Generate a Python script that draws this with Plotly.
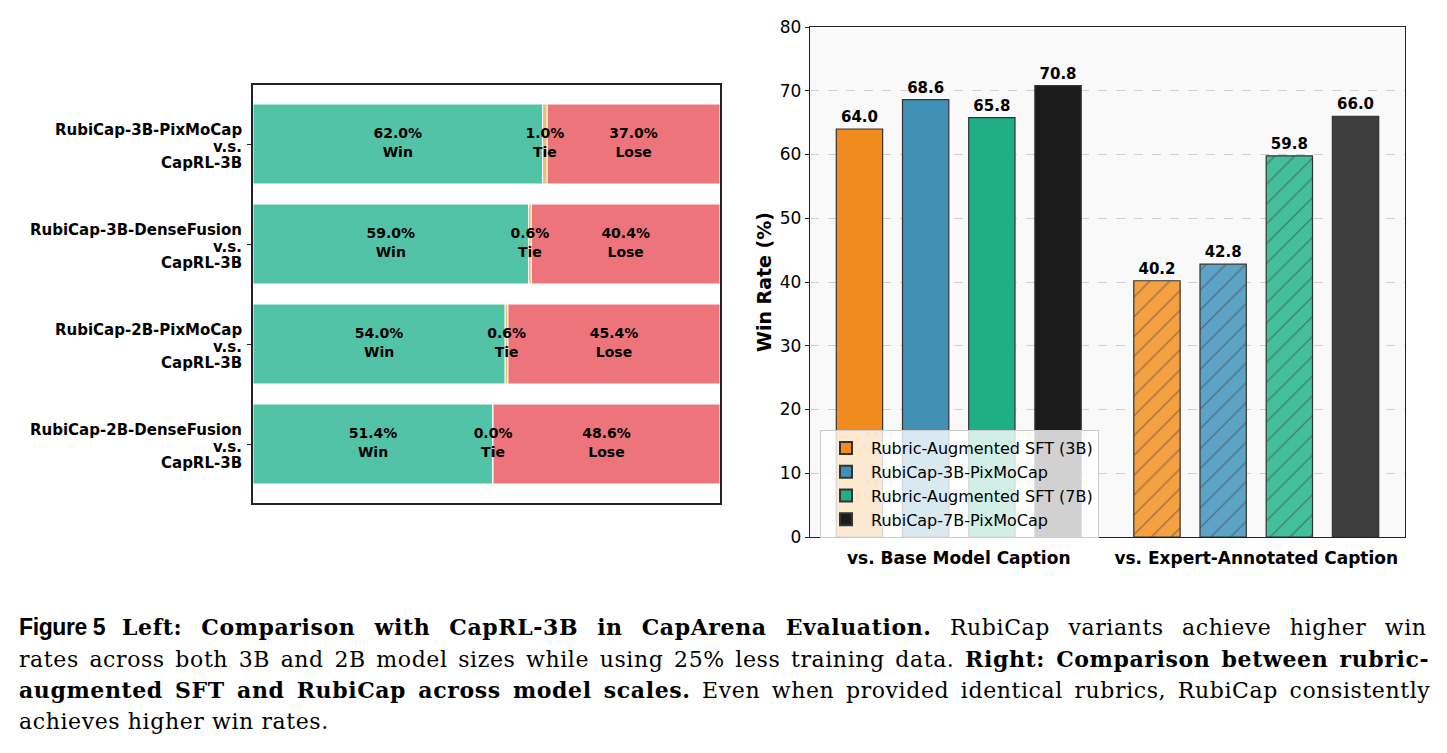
import plotly.graph_objects as go

W, H = 1447, 753

# ---------------- data ----------------
pair_lines = [
    ["RubiCap-3B-PixMoCap", "v.s.", "CapRL-3B"],
    ["RubiCap-3B-DenseFusion", "v.s.", "CapRL-3B"],
    ["RubiCap-2B-PixMoCap", "v.s.", "CapRL-3B"],
    ["RubiCap-2B-DenseFusion", "v.s.", "CapRL-3B"],
]
pairs = ["<br>".join(p) for p in pair_lines]
win = [62.0, 59.0, 54.0, 51.4]
tie = [1.0, 0.6, 0.6, 0.0]
lose = [37.0, 40.4, 45.4, 48.6]

groups = ["vs. Base Model Caption", "vs. Expert-Annotated Caption"]
series_names = [
    "Rubric-Augmented SFT (3B)",
    "RubiCap-3B-PixMoCap",
    "Rubric-Augmented SFT (7B)",
    "RubiCap-7B-PixMoCap",
]
sft_3b = [64.0, 40.2]
rubicap_3b = [68.6, 42.8]
sft_7b = [65.8, 59.8]
rubicap_7b = [70.8, 66.0]

# ---------------- styles ----------------
WIN_C, TIE_C, LOSE_C = "#52C3A6", "#E3C46E", "#EE747C"
series_vals = [sft_3b, rubicap_3b, sft_7b, rubicap_7b]
series_cols = [
    ["#F28B1E", "#F5A142"],
    ["#4390B5", "#5CA3C5"],
    ["#1FAF87", "#43BF9C"],
    ["#1B1B1B", "#3E3E3E"],
]
series_hatch = [["", "/"], ["", "/"], ["", "/"], ["", ""]]

def px_x(p):
    return p / W

def px_y(p):
    return 1 - p / H

fig = go.Figure()

# ---------- left panel: stacked horizontal bars ----------
base_tie = [w for w in win]
base_lose = [w + t for w, t in zip(win, tie)]
for vals, base, col in [(win, [0] * 4, WIN_C), (tie, base_tie, TIE_C), (lose, base_lose, LOSE_C)]:
    fig.add_trace(go.Bar(
        y=pairs, x=vals, base=base, orientation="h", width=0.8, offsetgroup="L",
        marker=dict(color=col, line=dict(color="white", width=1)),
        showlegend=False, xaxis="x", yaxis="y", hoverinfo="skip",
    ))

lab_x, lab_y, lab_t = [], [], []
for i, p in enumerate(pairs):
    lab_x += [win[i] / 2, win[i] + tie[i] / 2, win[i] + tie[i] + lose[i] / 2]
    lab_y += [p, p, p]
    lab_t += [f"{win[i]:.1f}%<br>Win", f"{tie[i]:.1f}%<br>Tie", f"{lose[i]:.1f}%<br>Lose"]
fig.add_trace(go.Scatter(
    x=lab_x, y=lab_y, text=lab_t, mode="text", textposition="middle center",
    textfont=dict(family="DejaVu Sans", size=14, color="black", weight="bold"),
    showlegend=False, xaxis="x", yaxis="y", hoverinfo="skip", cliponaxis=False,
))

# category labels (three lines each, matplotlib-like line spacing)
label_shifts = [14, -3, -19]
for p, lines in zip(pairs, pair_lines):
    for line, ys in zip(lines, label_shifts):
        fig.add_annotation(
            x=px_x(244), xref="paper", y=p, yref="y", yshift=ys,
            xanchor="right", yanchor="middle", text=f"<b>{line}</b>", showarrow=False,
            font=dict(family="DejaVu Sans", size=15, color="black"),
        )

# ---------- right panel: grouped bars ----------
for name, vals, cols, hatch in zip(series_names, series_vals, series_cols, series_hatch):
    fig.add_trace(go.Bar(
        x=groups, y=vals, name=name,
        marker=dict(
            color=cols,
            line=dict(color="#333333", width=1.2),
            pattern=dict(shape=hatch, fgcolor="#333333", size=14, solidity=0.1),
        ),
        text=vals, texttemplate="<b>%{y:.1f}</b>", textposition="outside",
        constraintext="none", cliponaxis=False,
        textfont=dict(family="DejaVu Sans", size=15, color="black"),
        xaxis="x2", yaxis="y2", hoverinfo="skip",
    ))

fig.add_shape(
    type="rect", xref="x2 domain", yref="y2 domain", x0=0, x1=1, y0=0, y1=1,
    fillcolor="#F9F9F9", line=dict(width=0), layer="below",
)

fig.update_layout(
    width=W, height=H,
    margin=dict(l=0, r=0, t=0, b=0, autoexpand=False),
    paper_bgcolor="white", plot_bgcolor="white",
    barmode="group", bargap=0.11, bargroupgap=0.3,
    font=dict(family="DejaVu Sans", color="black"),
    xaxis=dict(
        domain=[px_x(253), px_x(720)], range=[0, 100], showticklabels=False,
        ticks="", showgrid=False, zeroline=False, showline=True, mirror=True,
        linecolor="#222", linewidth=1.5, automargin=False,
    ),
    yaxis=dict(
        domain=[px_y(503), px_y(85)], type="category", categoryorder="array",
        categoryarray=pairs, range=[3.59, -0.59], showgrid=False, zeroline=False,
        showline=True, mirror=True, linecolor="#222", linewidth=1.5,
        ticks="outside", ticklen=4, tickcolor="#222", showticklabels=False,
        automargin=False,
    ),
    xaxis2=dict(
        domain=[px_x(810), px_x(1405)], anchor="y2", showgrid=False, zeroline=False,
        showline=True, mirror=True, linecolor="#222", linewidth=1.3,
        ticks="", ticklabelstandoff=5, automargin=False,
        tickfont=dict(family="DejaVu Sans", size=17, color="black", weight="bold"),
    ),
    yaxis2=dict(
        domain=[px_y(537), px_y(27)], anchor="x2", range=[0, 80], dtick=10,
        showgrid=True, gridcolor="#cfcfcf", griddash="dash", gridwidth=1,
        zeroline=False, showline=True, mirror=True, linecolor="#222", linewidth=1.3,
        ticks="outside", ticklen=4, tickcolor="#222", automargin=False,
        tickfont=dict(family="DejaVu Sans", size=17, color="black"),
        title=dict(text="<b>Win Rate (%)</b>", standoff=3,
                   font=dict(family="DejaVu Sans", size=19, color="black")),
    ),
    legend=dict(
        x=px_x(820), y=px_y(430), xanchor="left", yanchor="top",
        bgcolor="rgba(255,255,255,0.8)", bordercolor="#cccccc", borderwidth=1,
        font=dict(family="DejaVu Sans", size=16, color="black"),
        tracegroupgap=0, itemsizing="constant", itemwidth=40,
    ),
)

# ---------- caption ----------
fig.add_annotation(
    x=px_x(17), y=px_y(627), xref="paper", yref="paper", xanchor="left", yanchor="middle",
    text='<span style="letter-spacing:-0.4px"><b>Figure 5</b></span>', showarrow=False,
    font=dict(family="Liberation Sans", size=23, color="black"),
)
cap_lines = [
    (120, 627, 10.8, "<b>Left: Comparison with CapRL-3B in CapArena Evaluation.</b> RubiCap variants achieve higher win"),
    (17, 659, 3.0, "rates across both 3B and 2B model sizes while using 25% less training data. <b>Right: Comparison between rubric-</b>"),
    (17, 690, 4.0, "<b>augmented SFT and RubiCap across model scales.</b> Even when provided identical rubrics, RubiCap consistently"),
    (17, 721, 0.0, "achieves higher win rates."),
]
for x0, y0, ws, t in cap_lines:
    fig.add_annotation(
        x=px_x(x0), y=px_y(y0), xref="paper", yref="paper", xanchor="left", yanchor="middle",
        text=f'<span style="letter-spacing:0.6px;word-spacing:{ws}px">{t}</span>',
        showarrow=False, font=dict(family="DejaVu Serif", size=22, color="black"),
    )

fig.write_html("out.html")
